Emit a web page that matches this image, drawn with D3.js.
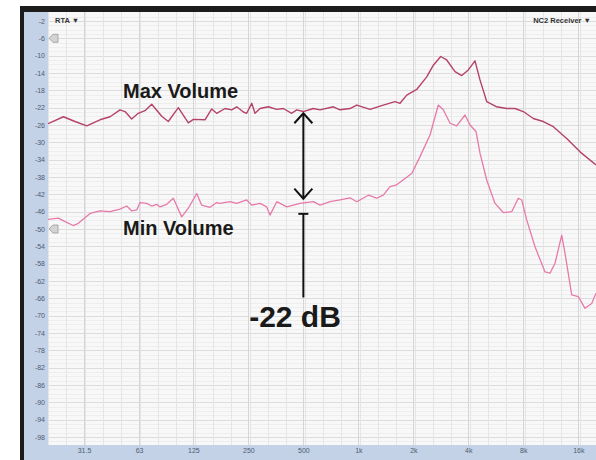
<!DOCTYPE html>
<html>
<head>
<meta charset="utf-8">
<script src="https://cdn.jsdelivr.net/npm/d3@7"></script>
<style>
  body { margin: 0; background: #fff; }
  svg { display: block; font-family: "Liberation Sans", Arial, Helvetica, sans-serif; }
</style>
</head>
<body>
<div class="graph-div"></div>
<script>
// response curves (Hz, dB)
var maxFreq = [20, 24.3, 28.1, 32.6, 38.5, 43.7, 49.6, 52.8, 57.4, 62.4, 67.9, 73.9, 83.9, 91.1, 103.4, 117.3, 124.9, 144.7, 157.5, 167.7,
  186.2, 202.6, 215.8, 234.6, 244.8, 260.8, 271.8, 289.6, 321.4, 357.4, 388.4, 431.8, 459.8, 499.6, 567, 616.8, 729.4, 793.6, 900, 980,
  1158, 1369, 1587, 1691, 1840, 2087, 2368, 2574, 2824, 3046, 3382, 3680, 3999, 4351, 4634, 5043, 5721, 6490, 7206, 7998,
  9074, 10292, 11680, 13824, 16348, 20000];
var maxDb = [-25.7, -24.1, -25.2, -26.2, -24.8, -24.1, -22.5, -22.9, -24.6, -23.3, -22.7, -21.2, -24.0, -25.2, -22.0, -25.5, -24.7, -24.8, -22.3, -23.3,
  -22.2, -22.5, -21.8, -23.0, -23.3, -21.0, -23.3, -22.2, -21.8, -22.4, -22.2, -23.3, -22.5, -22.9, -22.2, -22.5, -21.8, -22.5, -22.2, -21.4,
  -22.4, -21.4, -20.6, -21.0, -19.1, -17.8, -14.9, -12.2, -10.2, -11.0, -13.7, -14.6, -13.3, -11.2, -15.6, -20.6, -21.8, -22.2, -22.2, -22.9,
  -24.5, -25.2, -26.4, -29.1, -32.2, -35.2];

var minFreq = [20, 22.8, 24.8, 27.5, 29.3, 34.0, 38.5, 43.7, 49.6, 53.9, 57.4, 61.2, 63.8, 69.4, 73.9, 78.7, 82.1, 89.3, 97.1, 107.9,
  117.3, 130.4, 138.8, 154.1, 167.7, 174.8, 198.3, 215.8, 244.8, 260.8, 289.6, 315, 328.4, 357.4, 405.4, 479.2, 567, 616.8, 699.8, 793.6,
  900, 980, 1134, 1261, 1369, 1490, 1622, 1959, 2176, 2468, 2740, 2918, 3176, 3456, 3836, 4086, 4407, 4634, 5043, 5599,
  6217, 6912, 7512, 7840, 8350, 9272, 10520, 11202, 11932, 12982, 13534, 14724, 16002, 17416, 18946, 20000];
var minDb = [-47.8, -47.5, -48.3, -49.2, -48.7, -46.4, -45.8, -46.0, -45.4, -44.7, -45.8, -45.6, -43.9, -44.1, -44.7, -44.3, -44.9, -44.3, -42.9, -47.2,
  -45.2, -41.8, -44.5, -45.0, -43.9, -44.1, -43.7, -44.1, -43.3, -44.5, -44.1, -44.9, -46.8, -43.7, -44.9, -44.1, -43.7, -44.5, -43.7, -43.3,
  -42.8, -43.7, -42.2, -42.9, -42.2, -40.2, -39.8, -37.2, -33.3, -28.3, -21.4, -22.5, -25.6, -26.2, -23.7, -26.0, -27.5, -32.5, -38.7, -44.1,
  -46.2, -46.0, -42.9, -43.3, -47.9, -54.1, -59.9, -60.2, -57.9, -51.4, -55.6, -65.2, -65.6, -68.3, -67.2, -64.8];

var yTickValues = [-2, -6, -10, -14, -18, -22, -26, -30, -34, -38, -42, -46, -50, -54, -58, -62, -66, -70, -74, -78, -82, -86, -90, -94, -98];
var xTickValues = [31.5, 63, 125, 250, 500, 1000, 2000, 4000, 8000, 16000];
var xTickLabels = ["31.5", "63", "125", "250", "500", "1k", "2k", "4k", "8k", "16k"];

// level flags on the left edge
var flagLevels = [-6, -50];

// annotation levels (dB) at 500 Hz
var arrowFreq = 500;
var arrowTopDb = -23.3;
var arrowBottomDb = -43;
var barDb = -46.5;
var stemBottomDb = -65.8;

var outerWidth = 596;
var outerHeight = 460;

var plot = {left: 48, top: 12, right: 596, bottom: 445};

var svg = d3.select(".graph-div").append("svg")
  .attr("width", outerWidth)
  .attr("height", outerHeight);

var xScale = d3.scaleLog()
  .domain([20, 20000])
  .range([plot.left, plot.right]);

var yScale = d3.scaleLinear()
  .domain([0, -100])
  .range([12.3, 445.7]);

// frame
svg.append("rect").attr("x", 20).attr("y", 6).attr("width", 576).attr("height", 454).attr("fill", "#1c1c1c");
svg.append("rect").attr("x", 24).attr("y", 12).attr("width", 572).attr("height", 448).attr("fill", "#c3d2e6");
svg.append("rect")
  .attr("x", plot.left).attr("y", plot.top)
  .attr("width", plot.right - plot.left).attr("height", plot.bottom - plot.top)
  .attr("fill", "#f8f8f8");

var grid = svg.append("g").attr("id", "grid");

// minor horizontal lines every dB
grid.selectAll(".hminor").data(d3.range(-1, -100, -1)).enter().append("line")
  .attr("x1", plot.left).attr("x2", plot.right)
  .attr("y1", function(d) { return Math.round(yScale(d)) + 0.5; })
  .attr("y2", function(d) { return Math.round(yScale(d)) + 0.5; })
  .attr("stroke", function(d) { return (d + 2) % 4 === 0 ? "#dcdcdc" : "#eeeeee"; })
  .attr("stroke-width", 1);

// third-octave vertical lines
var thirds = d3.range(0, 31).map(function(i) { return 20 * Math.pow(2, i / 3); })
  .filter(function(f) { return f <= 20000; });
grid.selectAll(".vminor").data(thirds).enter().append("line")
  .attr("y1", plot.top).attr("y2", plot.bottom)
  .attr("x1", function(d) { return Math.round(xScale(d)) + 0.5; })
  .attr("x2", function(d) { return Math.round(xScale(d)) + 0.5; })
  .attr("stroke", "#e5e5e5");
grid.selectAll(".vmajor").data(xTickValues).enter().append("line")
  .attr("y1", plot.top).attr("y2", plot.bottom)
  .attr("x1", function(d) { return Math.round(xScale(d)) + 0.5; })
  .attr("x2", function(d) { return Math.round(xScale(d)) + 0.5; })
  .attr("stroke", "#d6d6d6");

// axes
var yAxis = d3.axisLeft(yScale)
  .tickValues(yTickValues)
  .tickSize(0)
  .tickPadding(3)
  .tickFormat(function(d) { return String(d); });
var xAxis = d3.axisBottom(xScale)
  .tickValues(xTickValues)
  .tickSize(0)
  .tickPadding(3)
  .tickFormat(function(d, i) { return xTickLabels[i]; });

var yAxisG = svg.append("g").attr("id", "y-axis")
  .attr("transform", "translate(" + plot.left + ",0)")
  .call(yAxis);
var xAxisG = svg.append("g").attr("id", "x-axis")
  .attr("transform", "translate(0," + plot.bottom + ")")
  .call(xAxis);
[yAxisG, xAxisG].forEach(function(a) {
  a.select(".domain").remove();
  a.selectAll("text").attr("fill", "#4e5d72").attr("font-size", 7)
    .attr("font-family", "\"Liberation Sans\", Arial, sans-serif");
});

// curves
var line = d3.line()
  .x(function(d) { return xScale(d[0]); })
  .y(function(d) { return yScale(d[1]); });

var curves = svg.append("g").attr("clip-path", "url(#clip)");
svg.append("clipPath").attr("id", "clip").append("rect")
  .attr("x", plot.left).attr("y", plot.top)
  .attr("width", plot.right - plot.left).attr("height", plot.bottom - plot.top);

curves.append("path")
  .attr("d", line(d3.zip(minFreq, minDb)))
  .attr("fill", "none").attr("stroke", "#e77aa9").attr("stroke-width", 1.3)
  .attr("stroke-linejoin", "round");
curves.append("path")
  .attr("d", line(d3.zip(maxFreq, maxDb)))
  .attr("fill", "none").attr("stroke", "#b5426b").attr("stroke-width", 1.4)
  .attr("stroke-linejoin", "round");

// level flags
svg.selectAll(".flag").data(flagLevels).enter().append("path")
  .attr("d", function(d) {
    var y = yScale(d);
    return "M" + (plot.left + 1) + "," + y + " L" + (plot.left + 5) + "," + (y - 4) +
      " L" + (plot.left + 10) + "," + (y - 4) + " L" + (plot.left + 10) + "," + (y + 4) +
      " L" + (plot.left + 5) + "," + (y + 4) + " Z";
  })
  .attr("fill", "#d4d4d4").attr("stroke", "#9a9a9a").attr("stroke-width", 0.8);

// header labels
svg.append("text").attr("x", 55).attr("y", 23)
  .attr("font-size", 7.5).attr("font-weight", "bold").attr("fill", "#333")
  .text("RTA \u25BC");
svg.append("text").attr("x", 591).attr("y", 23).attr("text-anchor", "end")
  .attr("font-size", 7.5).attr("font-weight", "bold").attr("fill", "#333")
  .text("NC2 Receiver \u25BC");

// annotations
svg.append("text").attr("x", 123).attr("y", 98)
  .attr("font-size", 20).attr("font-weight", "bold").attr("fill", "#1a1a1a")
  .text("Max Volume");
svg.append("text").attr("x", 123).attr("y", 235)
  .attr("font-size", 20).attr("font-weight", "bold").attr("fill", "#1a1a1a")
  .text("Min Volume");

var ax = xScale(arrowFreq);
var yTop = yScale(arrowTopDb);
var yBot = yScale(arrowBottomDb);
var ann = svg.append("g").attr("stroke", "#111").attr("stroke-width", 2).attr("fill", "none");
ann.append("line").attr("x1", ax).attr("x2", ax).attr("y1", yTop).attr("y2", yBot);
ann.append("polyline").attr("points", (ax - 9) + "," + (yTop + 10) + " " + ax + "," + yTop + " " + (ax + 9) + "," + (yTop + 10));
ann.append("polyline").attr("points", (ax - 9) + "," + (yBot - 10) + " " + ax + "," + yBot + " " + (ax + 9) + "," + (yBot - 10));
ann.append("line").attr("x1", ax - 5).attr("x2", ax + 5).attr("y1", yScale(barDb)).attr("y2", yScale(barDb));
ann.append("line").attr("x1", ax).attr("x2", ax).attr("y1", yScale(barDb)).attr("y2", yScale(stemBottomDb));

svg.append("text").attr("x", 295).attr("y", 327).attr("text-anchor", "middle")
  .attr("font-size", 30).attr("font-weight", "bold").attr("fill", "#1a1a1a")
  .text("-22 dB");
</script>
</body>
</html>
